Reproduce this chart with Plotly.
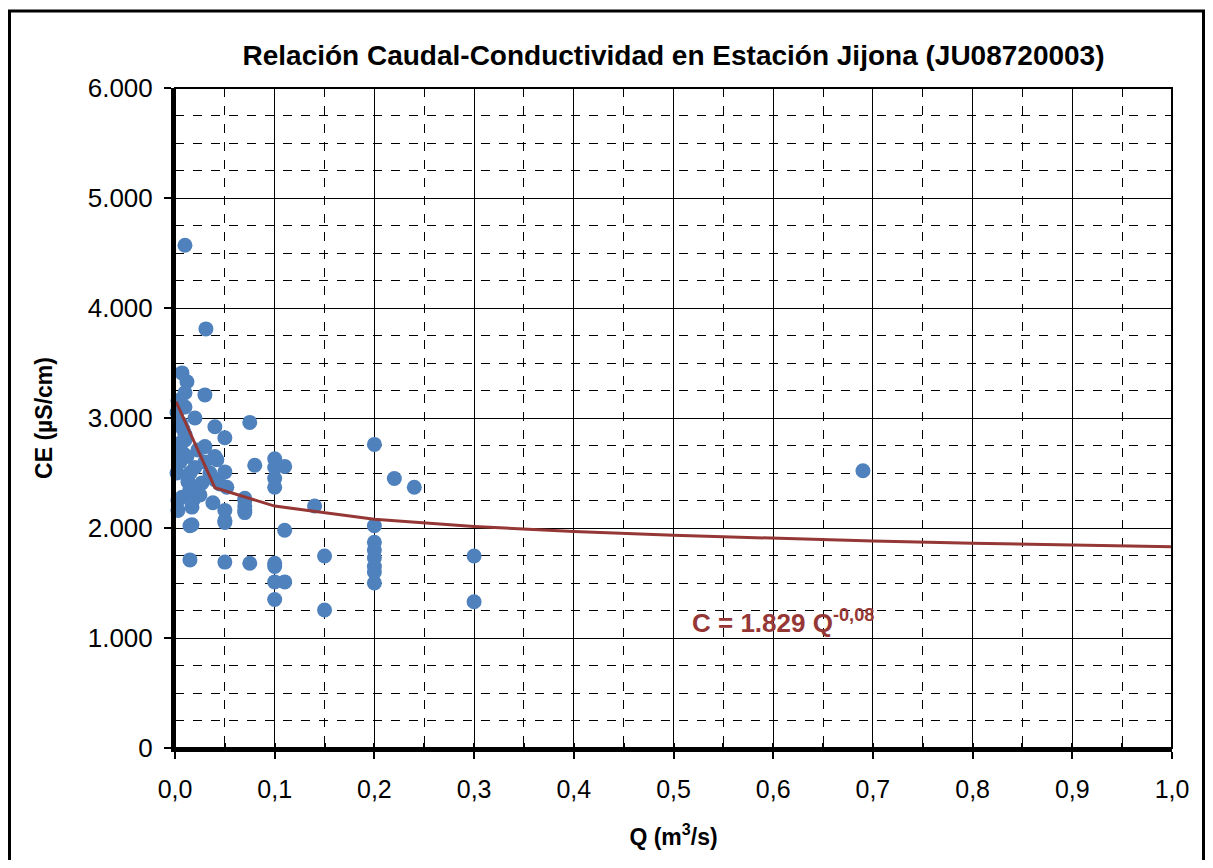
import plotly.graph_objects as go

# caudal (m3/s) y conductividad (uS/cm) medidos
q = [0.010, 0.031, 0.007, 0.012, 0.030, 0.003, 0.010, 0.002, 0.020, 0.040,
     0.050, 0.075, 0.010, 0.008, 0.023, 0.040, 0.005, 0.030, 0.042, 0.080,
     0.002, 0.020, 0.050, 0.013, 0.027, 0.040, 0.052, 0.007, 0.023, 0.038,
     0.070, 0.003, 0.017, 0.050, 0.070, 0.017, 0.050, 0.005, 0.012, 0.008,
     0.015, 0.003, 0.010, 0.018, 0.025, 0.030, 0.035, 0.045, 0.015, 0.006,
     0.100, 0.100, 0.110, 0.100, 0.100, 0.200, 0.220, 0.240, 0.690, 0.140,
     0.200, 0.200, 0.200, 0.200, 0.200, 0.200, 0.200, 0.300, 0.300, 0.150,
     0.150, 0.110, 0.100, 0.100, 0.100, 0.100, 0.050, 0.075, 0.015, 0.015,
     0.110, 0.070, 0.070, 0.070, 0.050, 0.010, 0.004]
ce = [4570, 3810, 3410, 3330, 3210, 3160, 3230, 3050, 3000, 2920,
      2820, 2960, 2800, 2680, 2710, 2650, 2770, 2740, 2620, 2570,
      2500, 2550, 2510, 2420, 2410, 2440, 2370, 2280, 2320, 2230,
      2250, 2160, 2190, 2160, 2160, 2030, 2050, 2600, 2650, 2900,
      2350, 2250, 3100, 2250, 2300, 2600, 2500, 2400, 2500, 2950,
      2630, 2550, 2560, 2450, 2370, 2760, 2450, 2370, 2520, 2200,
      2020, 1870, 1800, 1730, 1650, 1600, 1500, 1745, 1330, 1745,
      1255, 1510, 1510, 1350, 1680, 1650, 1690, 1680, 1710, 2020,
      1980, 2270, 2200, 2140, 2070, 2850, 2700]

# curva de ajuste potencial
q_fit = [0.001, 0.04, 0.1, 0.2, 0.3, 0.4, 0.5, 0.6, 0.7, 0.8, 0.9, 1.0]
ce_fit = [3150, 2366, 2199, 2080, 2014, 1968, 1933, 1905, 1882, 1862, 1845, 1829]

FONT = "Liberation Sans, Arial, sans-serif"
RED = "#953735"

fig = go.Figure()
fig.add_trace(go.Scatter(x=q, y=ce, mode="markers", cliponaxis=False,
                         marker=dict(size=15, color="#4F81BD"), showlegend=False))
fig.add_trace(go.Scatter(x=q_fit, y=ce_fit, mode="lines", cliponaxis=False,
                         line=dict(color=RED, width=3), showlegend=False))

fig.add_annotation(x=0.61, y=1150, xref="x", yref="y", showarrow=False,
                   text="<b>C = 1.829 Q<sup>-0,08</sup></b>",
                   font=dict(family=FONT, size=26, color=RED))

# marco exterior
fig.add_shape(type="rect", xref="paper", yref="paper",
              x0=-0.166, x1=1.0316, y0=-0.2, y1=1.1167,
              line=dict(color="black", width=3), layer="below")
# marco del area de trazado
fig.add_shape(type="rect", xref="paper", yref="paper", x0=0, x1=1, y0=0, y1=1,
              line=dict(color="black", width=2))

# la pagina tiene 8 px de margen en el body
fig.update_layout(
    width=1197, height=852,
    margin=dict(l=167, r=33, t=80, b=112),
    paper_bgcolor="white", plot_bgcolor="white",
    separators=",.",
    font=dict(family=FONT, color="black"),
    title=dict(text="<b>Relación Caudal-Conductividad en Estación Jijona (JU08720003)</b>",
               x=0.5, xref="paper", y=1 - 47 / 852, yref="container",
               xanchor="center", yanchor="middle",
               font=dict(family=FONT, size=28, color="black")),
)
fig.update_xaxes(range=[0, 1], dtick=0.1, tickformat=".1f",
                 showgrid=True, gridcolor="black", gridwidth=1,
                 minor=dict(dtick=0.05, showgrid=True, gridcolor="black",
                            griddash="dash", gridwidth=1,
                            ticks="inside", ticklen=5, tickcolor="black"),
                 ticks="outside", ticklen=7, tickwidth=2, tickcolor="black",
                 ticklabelstandoff=9,
                 showline=True, linecolor="black", linewidth=4,
                 zeroline=False, tickfont=dict(size=25),
                 title=dict(text="<b>Q (m<sup>3</sup>/s)</b>", font=dict(size=23),
                            standoff=28))
fig.update_yaxes(range=[0, 6000], dtick=1000, tickformat=",.0f",
                 showgrid=True, gridcolor="black", gridwidth=1,
                 minor=dict(dtick=250, showgrid=True, gridcolor="black",
                            griddash="dash", gridwidth=1),
                 ticks="outside", ticklen=7, tickwidth=2, tickcolor="black",
                 ticklabelstandoff=6,
                 showline=True, linecolor="black", linewidth=4,
                 zeroline=False, tickfont=dict(size=26),
                 title=dict(text="<b>CE (µS/cm)</b>", font=dict(size=23),
                            standoff=30))

fig.write_html("out.html")
